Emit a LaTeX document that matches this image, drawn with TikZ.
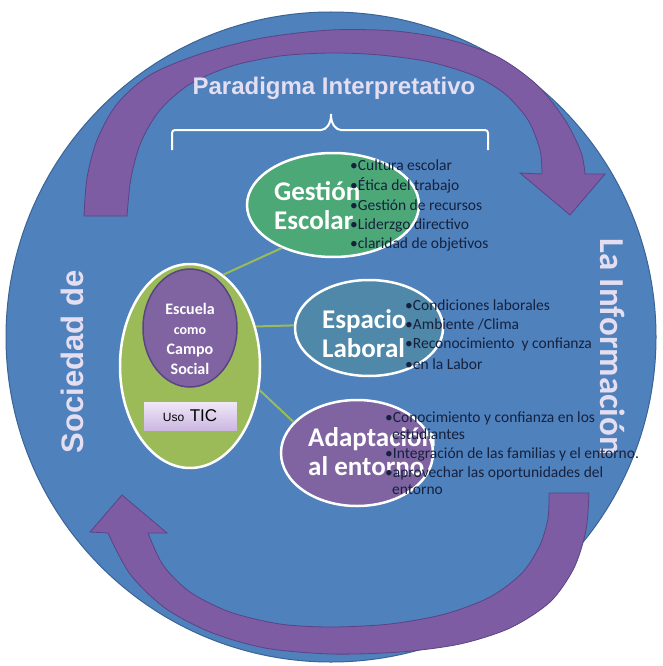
\documentclass[tikz,border=0pt]{standalone}
\usepackage{fontspec}
\setmainfont{Carlito}
\newfontfamily\headfont{Liberation Sans}
\usepackage{tikz}
\usetikzlibrary{shapes.geometric}
\definecolor{ringblue}{HTML}{4F81BD}
\definecolor{ringedge}{HTML}{3B6496}
\definecolor{plum}{HTML}{7D5CA3}
\definecolor{plumedge}{HTML}{5A4485}
\definecolor{jade}{HTML}{4DA878}
\definecolor{steel}{HTML}{4F88A8}
\definecolor{grape}{HTML}{8064A2}
\definecolor{leaf}{HTML}{9BBB59}
\definecolor{lilac}{HTML}{E4DEF0}
\definecolor{ink}{HTML}{16213D}
\definecolor{ticlight}{HTML}{F1E9F9}
\definecolor{ticdark}{HTML}{CBB6E0}
\tikzset{
  blob/.style={shape=ellipse, draw=white, line width=2.5pt, inner sep=0pt, fill=#1},
  head/.style={font=\bfseries\fontsize{27}{29}\selectfont, text=white, align=left, anchor=west, inner sep=0pt},
  item/.style={font=\fontsize{15.5}{17}\selectfont, text=ink, anchor=west, inner sep=0pt},
  link/.style={draw=leaf, line width=2pt},
  band/.style={fill=plum, draw=plumedge, line width=0.8pt},
  sidetitle/.style={font=\headfont\bfseries\fontsize{31}{31}\selectfont, text=lilac, inner sep=0pt},
}

\begin{document}
\begin{tikzpicture}[x=1pt,y=-1pt]
  \useasboundingbox (0,0) rectangle (662,666);
  \fill[white] (0,0) rectangle (662,666);

  % outer disc
  \draw[ringedge, fill=ringblue, line width=1pt] (331,337) circle (325);

  % top arrow (left tail -> right head)
  \draw[band] plot[smooth] coordinates {(84,216) (87,178) (97,140) (117,104) (150,75) (200,54) (262,38) (331,30) (395,31) (450,40) (498,57) (537,85) (565,120) (581,152) (585,174)}
    -- (605,174) -- (570,215) -- (520,173)
    -- plot[smooth] coordinates {(542,174) (540,150) (528,120) (505,94) (475,76) (430,62) (380,55) (331,53) (280,56) (232,66) (190,84) (160,110) (141,142) (131,178) (127,216)}
    -- cycle;

  % bottom arrow (right tail -> left head)
  \draw[band] plot[smooth] coordinates {(589,493) (586,530) (574,568) (550,602) (510,628) (460,644) (400,652) (331,654) (265,648) (210,632) (165,608) (130,574) (108,533)}
    -- (90,532) -- (122,495) -- (167,533)
    -- plot[smooth] coordinates {(148,533) (163,565) (190,592) (230,612) (280,624) (331,627) (390,624) (445,614) (490,597) (522,573) (540,545) (548,518) (549,493)}
    -- cycle;

  % title and brace
  \node[font=\headfont\bfseries\fontsize{24}{24}\selectfont, text=lilac] (paradigm) at (334,88) {Paradigma Interpretativo};
  \draw[white, line width=2pt, rounded corners=3pt] (172,150) |- (318,130)
    .. controls (326,130) and (331,124) .. (331,112)
    .. controls (331,124) and (336,130) .. (344,130) -| (488,150);

  \node[sidetitle, rotate=90] (sociedad) at (72,362) {Sociedad de};
  \node[sidetitle, font=\bfseries\fontsize{35}{35}\selectfont, rotate=-90] (informacion) at (613,347) {La Información};

  % LEFT: school as social field
  \node[blob=leaf, minimum width=140pt, minimum height=204pt] (campo) at (190,366) {};
  \node[blob=grape, draw=plumedge, line width=1.5pt, minimum width=94pt, minimum height=118pt] (escuela) at (190,328) {};
  \node[font=\bfseries\fontsize{16}{20}\selectfont, text=white, align=center] (escuelalbl) at (190,339)
    {Escuela\\{\fontsize{14}{20}\selectfont como}\\Campo\\Social};
  \node[draw=gray!70, top color=ticlight, bottom color=ticdark, minimum width=94pt, minimum height=30pt, inner sep=0pt] (tic) at (190,416)
    {\headfont{\fontsize{12}{12}\selectfont Uso}\ \ {\fontsize{17}{17}\selectfont TIC}};

  % dimensions
  \node[blob=jade, minimum width=172pt, minimum height=104pt] (gestion) at (333,205) {};
  \node[blob=steel, minimum width=148pt, minimum height=96pt] (espacio) at (369,328) {};
  \node[blob=grape, minimum width=152pt, minimum height=106pt] (adapta) at (357,453) {};

  \draw[link] (campo.70) -- (gestion.220);
  \draw[link] (campo.31) -- (espacio.178);
  \draw[link] (campo.-19) -- (adapta.154);

  \node[head] (gestionlbl) at (274,206) {Gestión\\Escolar};
  \node[head] (espaciolbl) at (322,334) {Espacio\\Laboral};
  \node[head] (adaptalbl) at (308,452) {Adaptación\\al entorno};

  % bullet lists
  \foreach \i/\yy/\txt in {0/165/Cultura escolar, 1/185/Ética del trabajo, 2/205/Gestión de recursos, 3/225/Liderzgo directivo, 4/244/claridad de objetivos} {
    \node[item] (gi\i) at (350,\yy) {•\txt};
  }
  \foreach \i/\yy/\txt in {0/305/Condiciones laborales, 1/324/{Ambiente /Clima}, 2/344/Reconocimiento\ \ y confianza, 3/364/en la Labor} {
    \node[item] (ei\i) at (405,\yy) {•\txt};
  }
  \foreach \i/\xx/\yy/\txt in {0/385/418/•Conocimiento y confianza en los, 1/392/434/estudiantes, 2/385/454/•Integración de las familias y el entorno., 3/385/473/•aprovechar las oportunidades del, 4/392/490/entorno} {
    \node[item] (ai\i) at (\xx,\yy) {\txt};
  }
\end{tikzpicture}
\end{document}
